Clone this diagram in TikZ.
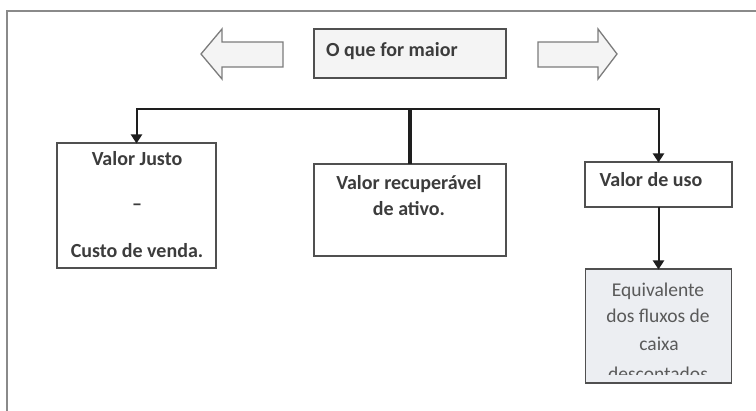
\documentclass[tikz,border=0pt]{standalone}
\usepackage{fontspec}
\setmainfont{Carlito}
\usetikzlibrary{arrows.meta}
\definecolor{framegray}{HTML}{8A8A8A}
\definecolor{boxline}{HTML}{505050}
\definecolor{txtdark}{HTML}{3C3C3C}
\definecolor{txtgray}{HTML}{5A5A5A}
\definecolor{lightfill}{HTML}{F4F4F4}
\definecolor{bluefill}{HTML}{ECEEF2}
\definecolor{conncol}{HTML}{1E1E1E}
\tikzset{
  box/.style={draw=boxline, line width=1.4pt, fill=white, inner sep=0pt, outer sep=0pt},
  blockarrow/.style={draw=framegray!90!black, line width=1.3pt, fill=lightfill, line join=miter},
  conn/.style={draw=conncol, line width=2pt},
  arrowconn/.style={conn, -{Triangle[length=9pt,width=11pt]}, shorten >=-0.5pt},
  thickconn/.style={draw=conncol, line width=4.2pt},
  boldtxt/.style={font=\fontsize{20}{24}\selectfont\bfseries, text=txtdark, inner sep=0pt, anchor=base},
  regtxt/.style={font=\fontsize{19.5}{24}\selectfont, text=txtgray, inner sep=0pt, anchor=base}
}
\begin{document}
\begin{tikzpicture}[x=1pt,y=-1pt]
\useasboundingbox (0,0) rectangle (756,411);
\clip (0,0) rectangle (756,411);
\fill[white] (0,0) rectangle (756,411);
% outer frame
\draw[framegray, line width=1.5pt] (7,420) -- (7,11) -- (770,11);
% block arrows
\draw[blockarrow] (201,54) -- (222,29) -- (222,42) -- (283,42) -- (283,67) -- (222,67) -- (222,79) -- cycle;
\draw[blockarrow] (538,42) -- (598,42) -- (598,29) -- (617,54) -- (598,79) -- (598,67) -- (538,67) -- cycle;
% boxes
\node[box, fill=lightfill, minimum width=192pt, minimum height=49pt] (top) at (410,53.5) {};
\node[box, minimum width=159pt, minimum height=125pt] (vj) at (136.5,205.5) {};
\node[box, minimum width=192pt, minimum height=92pt] (vr) at (410,210) {};
\node[box, minimum width=147pt, minimum height=45pt] (vu) at (658.5,184.5) {};
\node[box, fill=bluefill, minimum width=146pt, minimum height=114pt] (eq) at (658.5,326) {};
% texts
\node[boldtxt, anchor=base west] (ttop) at (326,57) {O que for maior};
\node[boldtxt] (tvj1) at (137,166) {Valor Justo};
\node[boldtxt] (tvj2) at (137,211) {–};
\node[boldtxt] (tvj3) at (137,258) {Custo de venda.};
\node[boldtxt] (tvr1) at (409,190) {Valor recuperável};
\node[boldtxt] (tvr2) at (409,216) {de ativo.};
\node[boldtxt] (tvu) at (651,187) {Valor de uso};
\node[regtxt] (teq1) at (658,297) {Equivalente};
\node[regtxt] (teq2) at (658,323) {dos fluxos de};
\node[regtxt] (teq3) at (659,351) {caixa};
\begin{scope}
\clip (586,360) rectangle (731,374.5);
\node[regtxt] (teq4) at (658,381) {descontados};
\end{scope}
% connectors
\coordinate (hl) at (136.5,109);
\coordinate (hr) at (658.5,109);
\draw[conn, line cap=rect] (hl) -- (hr);
\draw[thickconn] (vr.north |- hl) -- (vr.north);
\draw[arrowconn] (hl) -- (vj.north);
\draw[arrowconn] (hr) -- (vu.north);
\draw[arrowconn] (vu.south) -- (eq.north);
\end{tikzpicture}
\end{document}
